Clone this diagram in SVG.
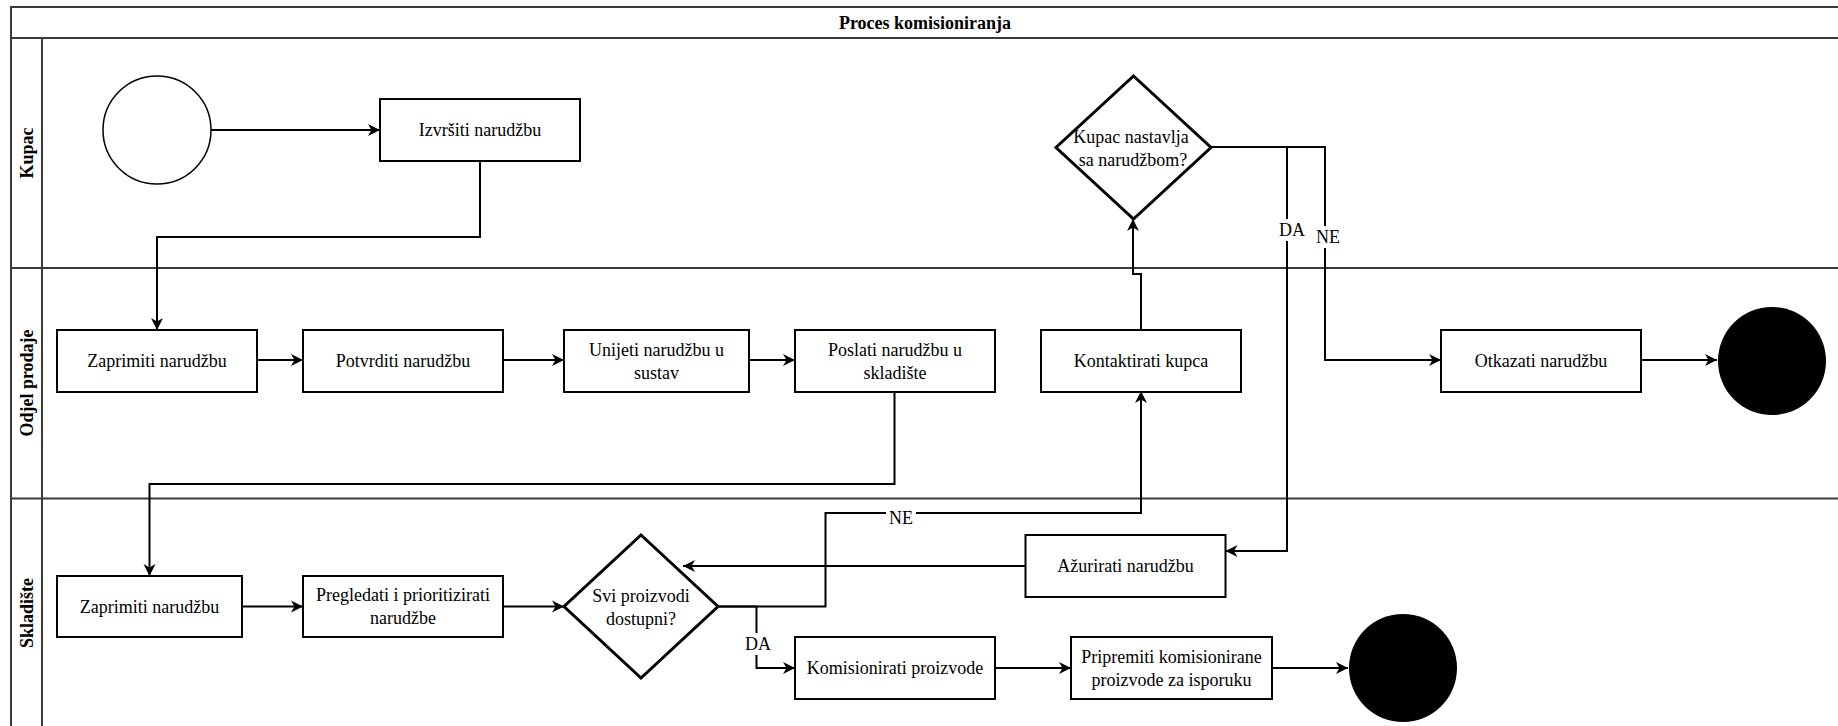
<svg xmlns="http://www.w3.org/2000/svg" width="1838" height="726" viewBox="0 0 1838 726">
<style>
text{font-family:"Liberation Serif","Times New Roman",serif;font-size:18px;fill:#000;text-anchor:middle;dominant-baseline:central}
.b{font-weight:bold}
.pool{fill:none;stroke:#3a3a3a;stroke-width:2}
.box{fill:#fff;stroke:#000;stroke-width:2}
.dia{fill:#fff;stroke:#000;stroke-width:3}
.c{fill:none;stroke:#000;stroke-width:2;marker-end:url(#arr)}
.lbl{fill:#fff}
</style>
<defs>
<marker id="arr" markerUnits="userSpaceOnUse" markerWidth="13" markerHeight="12" refX="12" refY="6" orient="auto" overflow="visible">
<path d="M0,0 L12,6 L0,12 L3.5,6 Z" fill="#000"/>
</marker>
</defs>
<rect width="1838" height="726" fill="#fff"/>
<g id="pool">
<path class="pool" d="M11,726 V7 H1838 M11,38 H1838 M42,38 V726 M11,268 H1838 M11,498.5 H1838"/>
<text class="b" x="925" y="23">Proces komisioniranja</text>
<text class="b" transform="translate(27,153) rotate(-90)">Kupac</text>
<text class="b" transform="translate(27,383) rotate(-90)">Odjel prodaje</text>
<text class="b" transform="translate(27,613) rotate(-90)">Skladište</text>
</g>
<g id="connectors">
<path class="c" d="M211,130 H380"/>
<path class="c" d="M480,161 V237 H157 V330"/>
<path class="c" d="M257,360 H303"/>
<path class="c" d="M503,360 H564"/>
<path class="c" d="M749,360 H795"/>
<path class="c" d="M894.5,391 V484 H149.5 V576"/>
<path class="c" d="M242,606.5 H303"/>
<path class="c" d="M503,606.5 H564"/>
<path class="c" d="M718,606.5 H825.5 V513 H1141 V391"/>
<path class="c" d="M718,606.5 H756.5 V668 H795"/>
<path class="c" d="M995,668 H1071"/>
<path class="c" d="M1272,668 H1348"/>
<path class="c" d="M1141,330 V274 H1133 V219"/>
<path class="c" d="M1211,147 H1287 V551 H1225.5"/>
<path class="c" d="M1211,147 H1325 V360 H1441"/>
<path class="c" d="M1641,360 H1717"/>
<path class="c" d="M1025.5,566 H683"/>
<rect class="lbl" x="886" y="507" width="30" height="22"/>
<text x="901" y="518">NE</text>
<rect class="lbl" x="743" y="633" width="30" height="22"/>
<text x="758" y="644">DA</text>
<rect class="lbl" x="1277" y="219" width="30" height="22"/>
<text x="1292" y="230">DA</text>
<rect class="lbl" x="1313" y="226" width="30" height="22"/>
<text x="1328" y="237">NE</text>
</g>
<g id="start"><circle cx="157" cy="130" r="54" fill="#fff" stroke="#000" stroke-width="1.5"/></g>
<g id="izvrsiti"><rect class="box" x="380" y="99" width="200" height="62"/><text x="480" y="130">Izvršiti narudžbu</text></g>
<g id="kupac-odluka"><path class="dia" d="M1133.5,76 L1211,147.5 L1133.5,219 L1056,147.5 Z"/><text x="1131" y="137">Kupac nastavlja</text><text x="1133" y="160">sa narudžbom?</text></g>
<g id="zaprimiti-op"><rect class="box" x="57" y="330" width="200" height="62"/><text x="157" y="361">Zaprimiti narudžbu</text></g>
<g id="potvrditi"><rect class="box" x="303" y="330" width="200" height="62"/><text x="403" y="361">Potvrditi narudžbu</text></g>
<g id="unijeti"><rect class="box" x="564" y="330" width="185" height="62"/><text x="656.5" y="350">Unijeti narudžbu u</text><text x="656.5" y="373">sustav</text></g>
<g id="poslati"><rect class="box" x="795" y="330" width="200" height="62"/><text x="895" y="350">Poslati narudžbu u</text><text x="895" y="373">skladište</text></g>
<g id="kontaktirati"><rect class="box" x="1041" y="330" width="200" height="62"/><text x="1141" y="361">Kontaktirati kupca</text></g>
<g id="otkazati"><rect class="box" x="1441" y="330" width="200" height="62"/><text x="1541" y="361">Otkazati narudžbu</text></g>
<g id="end1"><circle cx="1772" cy="361" r="54" fill="#000"/></g>
<g id="zaprimiti-sk"><rect class="box" x="57" y="576" width="185" height="61"/><text x="149.5" y="606.5">Zaprimiti narudžbu</text></g>
<g id="pregledati"><rect class="box" x="303" y="576" width="200" height="61"/><text x="403" y="595">Pregledati i prioritizirati</text><text x="403" y="618">narudžbe</text></g>
<g id="svi-dostupni"><path class="dia" d="M641,535 L718,606.5 L641,678 L564,606.5 Z"/><text x="641" y="596">Svi proizvodi</text><text x="641" y="619">dostupni?</text></g>
<g id="azurirati"><rect class="box" x="1025.5" y="535" width="200" height="62"/><text x="1125.5" y="566">Ažurirati narudžbu</text></g>
<g id="komisionirati"><rect class="box" x="795" y="637" width="200" height="62"/><text x="895" y="668">Komisionirati proizvode</text></g>
<g id="pripremiti"><rect class="box" x="1071" y="637" width="201" height="62"/><text x="1171.5" y="657">Pripremiti komisionirane</text><text x="1171.5" y="680">proizvode za isporuku</text></g>
<g id="end2"><circle cx="1403" cy="668" r="54" fill="#000"/></g>
</svg>
